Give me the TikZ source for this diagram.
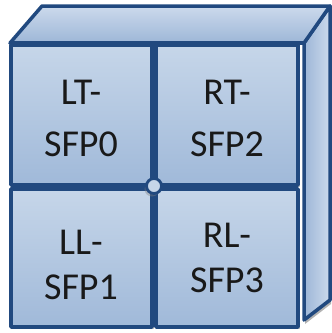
\documentclass[tikz,border=0pt]{standalone}
\usepackage{fontspec}
\setmainfont{Carlito}
\usetikzlibrary{shadows,positioning}
\definecolor{frameblue}{HTML}{21497F}
\definecolor{celltop}{HTML}{C6D6E9}
\definecolor{cellbot}{HTML}{A0B9D9}
\definecolor{sidedark}{HTML}{9DB6D7}
\definecolor{sidelight}{HTML}{CCDAEC}

\begin{document}
\begin{tikzpicture}[x=1pt,y=-1pt,
  edge/.style={draw=frameblue,line width=3.5pt,line join=round},
  cellbox/.style={edge,top color=celltop,bottom color=cellbot,
    drop shadow={shadow xshift=2pt,shadow yshift=-2pt,opacity=0.45}},
  celltext/.style={align=center,text=black!90,font=\fontsize{38}{52}\selectfont},
  lowtext/.style={celltext,font=\fontsize{38}{45}\selectfont}]
  \useasboundingbox (0,0) rectangle (332,333);

  % -=-=-=-=- BOX FACES -=-=-=-=-
  \coordinate (fl) at (10,43);
  \coordinate (bl) at (42,6);
  \coordinate (br) at (330,6);
  \coordinate (fr) at (304,43);
  \coordinate (rb) at (330,300);
  \coordinate (fb) at (304,320);
  \fill[black,opacity=0.3] ([shift={(1,4)}]fr) -- ([shift={(1,4)}]br) -- ([shift={(1,4)}]rb) -- ([shift={(1,4)}]fb) -- cycle;
  \draw[edge,left color=sidedark,right color=sidelight] (fr) -- (br) -- (rb) -- (fb) -- cycle;
  \draw[edge,top color=sidelight,bottom color=sidedark] (fl) -- (bl) -- (br) -- (fr) -- cycle;

  % -=-=-=-=- FRONT CELLS -=-=-=-=-
  \draw[cellbox] (11,45) rectangle (152,185);
  \draw[cellbox] (156,45) rectangle (298,185);
  \draw[cellbox] (11,189) rectangle (152,327);
  \draw[cellbox] (156,189) rectangle (298,327);
  \draw[edge] (fl) -- (fr);

  \node[celltext] (lt) at (81,118) {LT-\\SFP0};
  \node[celltext] (rt) at (227,118) {RT-\\SFP2};
  \node[lowtext] (ll) at (81,265) {LL-\\SFP1};
  \node[lowtext] (rl) at (227,258) {RL-\\SFP3};

  % -=-=-=-=- CENTRE KNOB -=-=-=-=-
  \node[circle,draw=frameblue,line width=2.8pt,fill=celltop,minimum size=15pt,inner sep=0pt,
    drop shadow={shadow xshift=-2pt,shadow yshift=-3pt,opacity=0.4}] (knob) at (154,186) {};
\end{tikzpicture}
\end{document}
